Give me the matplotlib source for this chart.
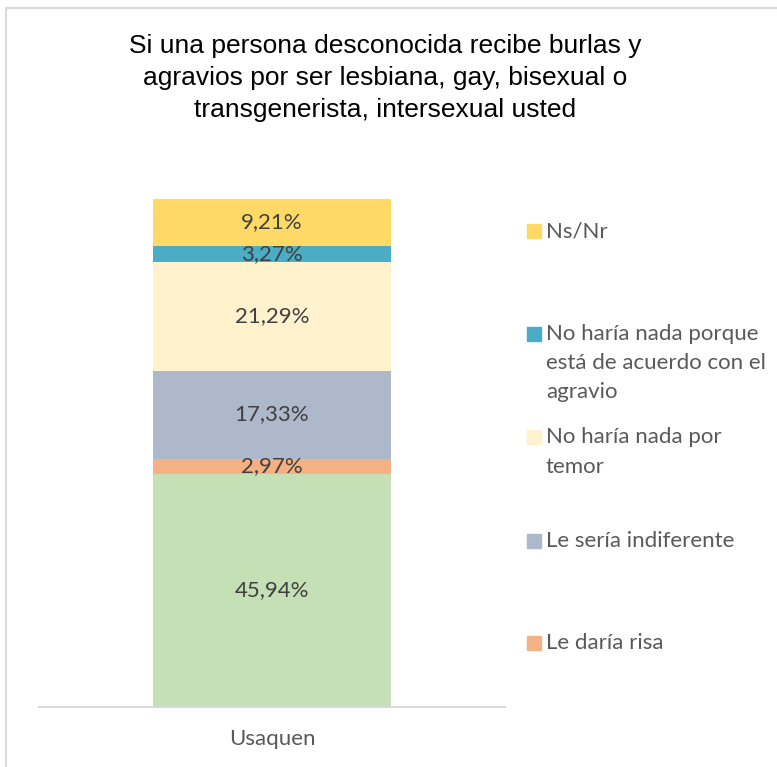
import matplotlib.pyplot as plt
from matplotlib.patches import Rectangle

# datos (porcentajes) de abajo hacia arriba
categorias = ["Usaquen"]
valores = [45.94, 2.97, 17.33, 21.29, 3.27, 9.21]
etiquetas = ["45,94%", "2,97%", "17,33%", "21,29%", "3,27%", "9,21%"]
colores = ["#C5E0B4", "#F4B183", "#ADB9CA", "#FFF2CC", "#4BACC6", "#FFD966"]

leyenda_txt = ["Ns/Nr", "No haría nada porque\nestá de acuerdo con el\nagravio",
               "No haría nada por\ntemor", "Le sería indiferente", "Le daría risa"]
leyenda_col = ["#FFD966", "#4BACC6", "#FFF2CC", "#ADB9CA", "#F4B183"]
leyenda_y = [231, 363, 452, 541, 643]  # centros en pixeles

W, H = 777, 767
fig = plt.figure(figsize=(W / 100, H / 100), dpi=100)
ax = fig.add_axes([39 / W, 1 - 707 / H, 466 / W, 508 / H])

base = 0
for v, lab, c in zip(valores, etiquetas, colores):
    ax.bar(0, v, bottom=base, width=0.511, color=c)
    ax.text(0, base + v / 2, lab, ha="center", va="center", fontsize=16,
            color="#404040", family="Lato")
    base += v

ax.set_xlim(-0.5, 0.5)
ax.set_ylim(0, sum(valores))
ax.set_xticks([0])
ax.set_xticklabels(categorias, fontsize=16, color="#595959", family="Lato")
ax.tick_params(axis="x", length=0, pad=16)
ax.set_yticks([])
for s in ["top", "right", "left"]:
    ax.spines[s].set_visible(False)
ax.spines["bottom"].set_color("#D9D9D9")
ax.spines["bottom"].set_linewidth(1.5)

fig.text(385 / W, 1 - 78 / H,
         "Si una persona desconocida recibe burlas y\nagravios por ser lesbiana, gay, bisexual o\ntransgenerista, intersexual usted",
         ha="center", va="center", fontsize=19, linespacing=1.40,
         family="Liberation Sans", color="#000000")

for t, c, y in zip(leyenda_txt, leyenda_col, leyenda_y):
    nl = t.count("\n")
    ytop = y - nl * 29.5 / 2
    fig.patches.append(Rectangle((527 / W, 1 - (ytop + 7) / H), 14 / W, 14 / H,
                                 transform=fig.transFigure, color=c))
    fig.text(546 / W, 1 - y / H, t, ha="left", va="center", fontsize=16,
             color="#595959", family="Lato", linespacing=1.57)

fig.patches.append(Rectangle((6 / W, -0.1), 1.2, 1.1 - 8 / H, transform=fig.transFigure,
                             fill=False, edgecolor="#D9D9D9", linewidth=1.5))

fig.savefig("out.png", dpi=100)
